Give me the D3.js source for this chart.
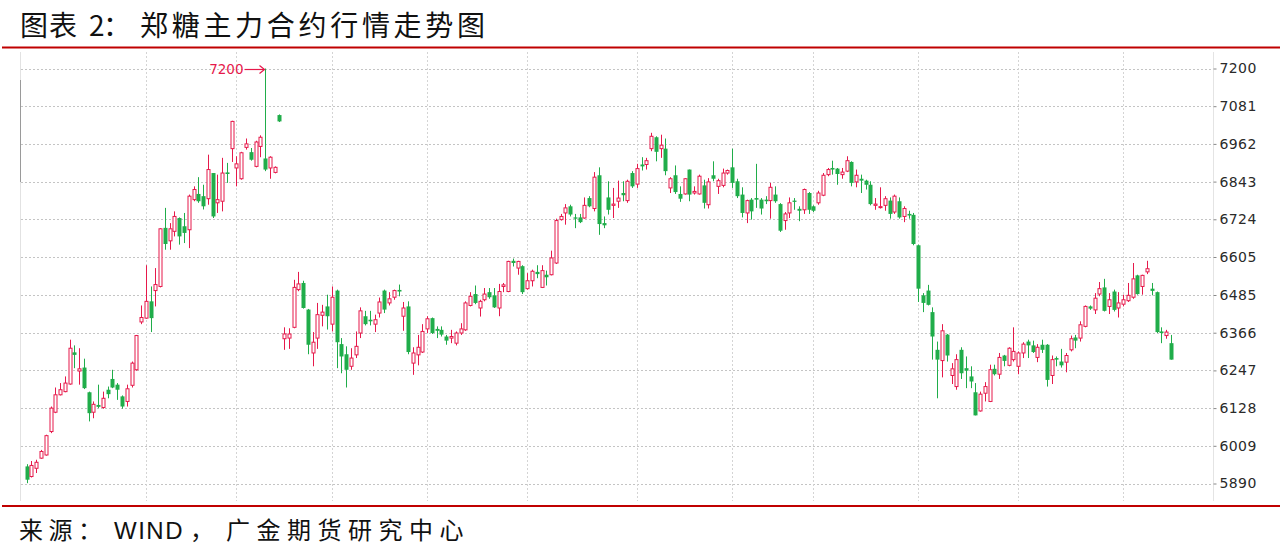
<!DOCTYPE html>
<html>
<head>
<meta charset="utf-8">
<script src="https://cdn.jsdelivr.net/npm/d3@7"></script>
<style>
body { margin: 0; background: #fff; }
</style>
</head>
<body>
<div id="chart"></div>
<script>
// daily OHLC (one entry per trading day)
var openP = [
  5944,5912,5938,5970,5980,6054,6115,6170,6180,6204, 6304,6245,6256,6178,6115,6138,6130,6186,6220,6202,
  6165,6149,6200,6249,6400,6412,6465,6499,6512,6697, 6656,6686,6728,6702,6691,6786,6804,6797,6789,6870,
  6776,6781,6872,6947,6886,6852,6951,6936,6891,6954, 6916,6886,6872,7053,6347,6349,6383,6502,6523,6439,
  6302,6349,6421,6449,6393,6499,6330,6298,6260,6296, 6365,6418,6407,6393,6428,6499,6460,6478,6501,6418,
  6449,6270,6296,6305,6378,6412,6378,6375,6354,6349, 6333,6365,6375,6452,6488,6444,6470,6494,6484,6444,
  6512,6496,6593,6570,6576,6505,6530,6558,6509,6549, 6549,6586,6723,6744,6765,6730,6730,6728,6791,6758,
  6863,6712,6793,6768,6781,6807,6783,6870,6835,6897, 6897,6947,6983,6947,6947,6823,6863,6804,6804,6881,
  6807,6804,6831,6770,6863,6828,6831,6870,6888,6844, 6802,6744,6786,6791,6786,6786,6783,6802,6772,6720,
  6744,6783,6757,6754,6807,6765,6776,6800,6865,6886, 6884,6865,6876,6905,6842,6852,6846,6833,6768,6761,
  6768,6783,6747,6781,6733,6741,6738,6642,6484,6499, 6431,6312,6278,6360,6231,6196,6312,6254,6228,6178,
  6119,6175,6149,6252,6235,6294,6263,6281,6260,6302, 6338,6326,6288,6328,6328,6231,6286,6275,6273,6312,
  6351,6349,6386,6449,6438,6488,6509,6449,6496,6444, 6456,6467,6478,6547,6512,6558,6505,6494,6370,6357,
  6333
];
var closeP = [
  5902,5947,5957,5991,6041,6128,6170,6186,6207,6317, 6296,6252,6191,6112,6140,6132,6159,6172,6193,6186,
  6133,6189,6270,6357,6414,6465,6412,6518,6694,6646, 6694,6733,6670,6681,6797,6818,6781,6765,6881,6733,
  6786,6870,6867,7033,6899,6934,6962,6912,6968,6983, 6881,6920,6888,7033,6362,6362,6509,6520,6444,6328,
  6336,6423,6431,6418,6478,6336,6291,6249,6286,6323, 6435,6393,6402,6407,6463,6439,6473,6499,6496,6444,
  6305,6302,6320,6370,6410,6365,6372,6360,6341,6354, 6365,6378,6460,6481,6460,6465,6488,6478,6446,6496,
  6517,6591,6586,6591,6494,6530,6560,6551,6562,6541, 6602,6720,6733,6760,6739,6726,6715,6768,6765,6857,
  6709,6705,6754,6772,6791,6800,6844,6828,6884,6891, 6909,6986,6937,6958,6876,6852,6810,6789,6852,6802,
  6812,6860,6776,6842,6852,6846,6870,6878,6839,6797, 6744,6783,6749,6786,6758,6781,6825,6781,6688,6741,
  6776,6779,6751,6818,6754,6751,6807,6863,6881,6881, 6867,6873,6909,6839,6863,6846,6833,6772,6772,6764,
  6789,6741,6797,6730,6758,6736,6646,6505,6460,6454, 6354,6281,6372,6294,6252,6281,6238,6246,6212,6105,
  6172,6196,6249,6235,6288,6277,6317,6307,6302,6330, 6326,6305,6320,6312,6217,6281,6281,6263,6294,6347,
  6341,6391,6449,6442,6475,6505,6435,6470,6438,6460, 6470,6484,6536,6488,6547,6568,6498,6368,6365,6368,
  6281
];
var highP = [
  5951,5961,5965,5996,6044,6133,6193,6207,6228,6344, 6326,6317,6284,6180,6149,6202,6180,6196,6249,6207,
  6168,6202,6275,6359,6452,6579,6512,6570,6696,6760, 6712,6749,6730,6744,6802,6828,6857,6833,6928,6870,
  6865,6918,6902,7035,6923,6937,6979,6949,6972,6989, 7200,6923,6891,7055,6383,6380,6533,6558,6530,6441,
  6368,6460,6454,6486,6512,6502,6349,6323,6317,6370, 6446,6435,6435,6423,6477,6502,6494,6502,6518,6463,
  6465,6320,6359,6393,6418,6414,6386,6386,6359,6375, 6370,6396,6465,6494,6515,6470,6507,6507,6507,6520,
  6523,6593,6600,6593,6579,6554,6565,6579,6579,6562, 6625,6726,6741,6772,6770,6741,6741,6793,6797,6873,
  6888,6733,6844,6823,6846,6844,6849,6876,6899,6920, 6918,6997,6986,6991,6979,6857,6894,6828,6854,6881,
  6828,6865,6849,6854,6907,6852,6884,6881,6947,6852, 6825,6786,6791,6899,6791,6797,6839,6828,6775,6747,
  6793,6791,6765,6821,6810,6768,6814,6870,6886,6909, 6886,6886,6923,6907,6881,6865,6849,6844,6791,6825,
  6797,6793,6802,6793,6765,6751,6744,6644,6491,6517, 6446,6338,6393,6362,6270,6298,6320,6291,6260,6207,
  6180,6210,6265,6265,6302,6296,6320,6383,6307,6336, 6344,6341,6330,6344,6330,6294,6291,6315,6302,6357,
  6359,6402,6452,6452,6491,6526,6536,6491,6502,6494, 6486,6523,6586,6549,6549,6593,6523,6496,6383,6375,
  6359
];
var lowP = [
  5891,5909,5923,5968,5978,6049,6112,6168,6178,6202, 6254,6202,6188,6086,6096,6128,6126,6159,6191,6154,
  6126,6133,6193,6246,6393,6410,6368,6449,6509,6628, 6628,6670,6644,6649,6633,6781,6776,6755,6770,6728,
  6744,6749,6839,6905,6828,6849,6944,6909,6888,6920, 6876,6852,6869,7031,6312,6315,6380,6497,6442,6298,
  6260,6315,6386,6376,6370,6254,6238,6193,6249,6286, 6349,6389,6389,6368,6414,6428,6452,6470,6481,6372,
  6298,6233,6263,6302,6365,6362,6349,6354,6328,6333, 6326,6359,6372,6449,6456,6417,6465,6473,6444,6418,
  6494,6494,6575,6549,6488,6502,6512,6538,6507,6515, 6547,6583,6720,6707,6733,6696,6712,6726,6762,6749,
  6675,6696,6739,6728,6760,6781,6776,6823,6823,6878, 6881,6939,6907,6918,6863,6807,6804,6779,6802,6781,
  6802,6802,6758,6758,6844,6804,6825,6865,6823,6791, 6730,6712,6723,6760,6739,6772,6726,6776,6684,6691,
  6728,6754,6718,6741,6741,6747,6770,6797,6860,6865, 6833,6852,6873,6828,6825,6807,6818,6768,6754,6758,
  6751,6726,6741,6726,6715,6726,6642,6463,6431,6452, 6281,6159,6225,6275,6204,6186,6220,6191,6191,6105,
  6117,6149,6147,6231,6220,6260,6260,6275,6235,6286, 6286,6302,6273,6302,6196,6204,6260,6256,6241,6307,
  6317,6338,6383,6438,6425,6481,6433,6425,6433,6414, 6449,6463,6473,6486,6486,6551,6484,6365,6333,6347,
  6281
];
var yTicks = [7200, 7081, 6962, 6843, 6724, 6605, 6485, 6366, 6247, 6128, 6009, 5890];
// index of the first trading day of each month (vertical grid)
var monthStarts = [25, 44, 64, 84, 105, 128, 148, 165, 187, 208, 230];

var titleText = ["图表", "2", "：", "郑糖主力合约行情走势图"];
var sourceText = ["来源：", "WIND", "，", "广金期货研究中心"];

var upColor = "#e6194b", downColor = "#20ad4a", ruleRed = "#c00000";
var width = 1282, height = 547;

var svg = d3.select("#chart").append("svg")
    .attr("width", width)
    .attr("height", height)
    .style("font-family", "'Noto Sans CJK SC', sans-serif");

var x = d3.scaleBand().domain(d3.range(openP.length)).range([24.3, 1173.2]);
var y = d3.scaleLinear().domain([5890, 7200]).range([483.5, 68.5]);
var cx = function (i) { return x(i) + x.bandwidth() / 2; };

// title + red rules
var title = svg.append("text").attr("y", 36).attr("font-size", 28).attr("fill", "#111");
title.append("tspan").attr("x", 20).attr("letter-spacing", 1).text(titleText[0]);
title.append("tspan").attr("x", 89).text(titleText[1]);
title.append("tspan").attr("x", 103).text(titleText[2]);
title.append("tspan").attr("x", 140).attr("letter-spacing", 3.7).text(titleText[3]);

svg.append("line").attr("x1", 2).attr("x2", 1280).attr("y1", 47.5).attr("y2", 47.5)
    .attr("stroke", ruleRed).attr("stroke-width", 2);
svg.append("line").attr("x1", 2).attr("x2", 1280).attr("y1", 506).attr("y2", 506)
    .attr("stroke", ruleRed).attr("stroke-width", 2);

var foot = svg.append("text").attr("y", 539).attr("font-size", 24).attr("fill", "#111");
foot.append("tspan").attr("x", 19).attr("letter-spacing", 5.5).text(sourceText[0]);
foot.append("tspan").attr("x", 114).attr("letter-spacing", 1.5)
    .style("font-family", "'Liberation Sans', Arial, sans-serif").text(sourceText[1]);
foot.append("tspan").attr("x", 190).text(sourceText[2]);
foot.append("tspan").attr("x", 226).attr("letter-spacing", 6.5).text(sourceText[3]);

// grid
var grid = svg.append("g");
grid.selectAll("line.h")
    .data(yTicks).enter()
    .append("line")
    .attr("class", "h")
    .attr("x1", 21).attr("x2", 1213)
    .attr("y1", d => Math.round(y(d)) + 0.5).attr("y2", d => Math.round(y(d)) + 0.5)
    .attr("stroke", "#c4c4c4")
    .attr("stroke-dasharray", "2,2");

grid.selectAll("line.v")
    .data(monthStarts).enter()
    .append("line")
    .attr("class", "v")
    .attr("x1", d => Math.round(cx(d)) + 0.5).attr("x2", d => Math.round(cx(d)) + 0.5)
    .attr("y1", 52).attr("y2", 501)
    .attr("stroke", "#d4d4d4")
    .attr("stroke-dasharray", "2,2");

// left frame line
svg.append("line").attr("x1", 20.5).attr("x2", 20.5).attr("y1", 52).attr("y2", 501)
    .attr("stroke", "#e2e2e2");
svg.append("line").attr("x1", 20.5).attr("x2", 20.5).attr("y1", 80).attr("y2", 182)
    .attr("stroke", "#9a9a9a");

// right axis
svg.append("line").attr("x1", 1213.5).attr("x2", 1213.5).attr("y1", 52).attr("y2", 501)
    .attr("stroke", "#e4e4e4");
var yAxis = svg.append("g")
    .attr("transform", "translate(1213.5,0)")
    .call(d3.axisRight(y).tickValues(yTicks).tickSize(3).tickPadding(3).tickFormat(d3.format("d")));
yAxis.select(".domain").remove();
yAxis.selectAll(".tick line").attr("stroke", "#888");
yAxis.selectAll(".tick text")
    .attr("fill", "#2a2a2a")
    .style("font-family", "'DejaVu Sans', sans-serif")
    .style("font-size", "14px")
    .attr("letter-spacing", 0.4);

// candles
var idx = d3.range(openP.length);
var candles = svg.append("g").selectAll("g")
    .data(idx).enter()
    .append("g");

candles.append("line")
    .attr("x1", i => Math.round(cx(i)) + 0.5).attr("x2", i => Math.round(cx(i)) + 0.5)
    .attr("y1", i => y(highP[i])).attr("y2", i => y(lowP[i]))
    .attr("stroke", i => closeP[i] >= openP[i] ? upColor : downColor)
    .attr("stroke-width", 1);

candles.append("rect")
    .attr("x", i => closeP[i] >= openP[i] ? Math.round(cx(i)) - 1 : Math.round(cx(i)) - 1.5)
    .attr("width", i => closeP[i] >= openP[i] ? 3 : 4)
    .attr("y", i => y(Math.max(openP[i], closeP[i])))
    .attr("height", i => Math.max(1, Math.abs(y(openP[i]) - y(closeP[i]))))
    .attr("fill", i => closeP[i] >= openP[i] ? "#fff" : downColor)
    .attr("stroke", i => closeP[i] >= openP[i] ? upColor : "none")
    .attr("stroke-width", 1);

// max-high marker: "7200 ->"
var peakIdx = d3.maxIndex(highP);
var px = Math.round(cx(peakIdx)) + 0.5, py = Math.round(y(highP[peakIdx])) + 0.5;
var mark = svg.append("g").attr("stroke", upColor).attr("fill", "none").attr("stroke-width", 1.2);
mark.append("line").attr("x1", px - 21).attr("x2", px - 1).attr("y1", py).attr("y2", py);
mark.append("path").attr("d", "M" + (px - 6) + "," + (py - 4) + "L" + (px - 1) + "," + py + "L" + (px - 6) + "," + (py + 4));
svg.append("text")
    .attr("x", px - 22).attr("y", py).attr("dy", "0.36em")
    .attr("text-anchor", "end")
    .attr("fill", upColor)
    .style("font-family", "'DejaVu Sans', sans-serif")
    .style("font-size", "13.5px")
    .text(highP[peakIdx]);
</script>
</body>
</html>
